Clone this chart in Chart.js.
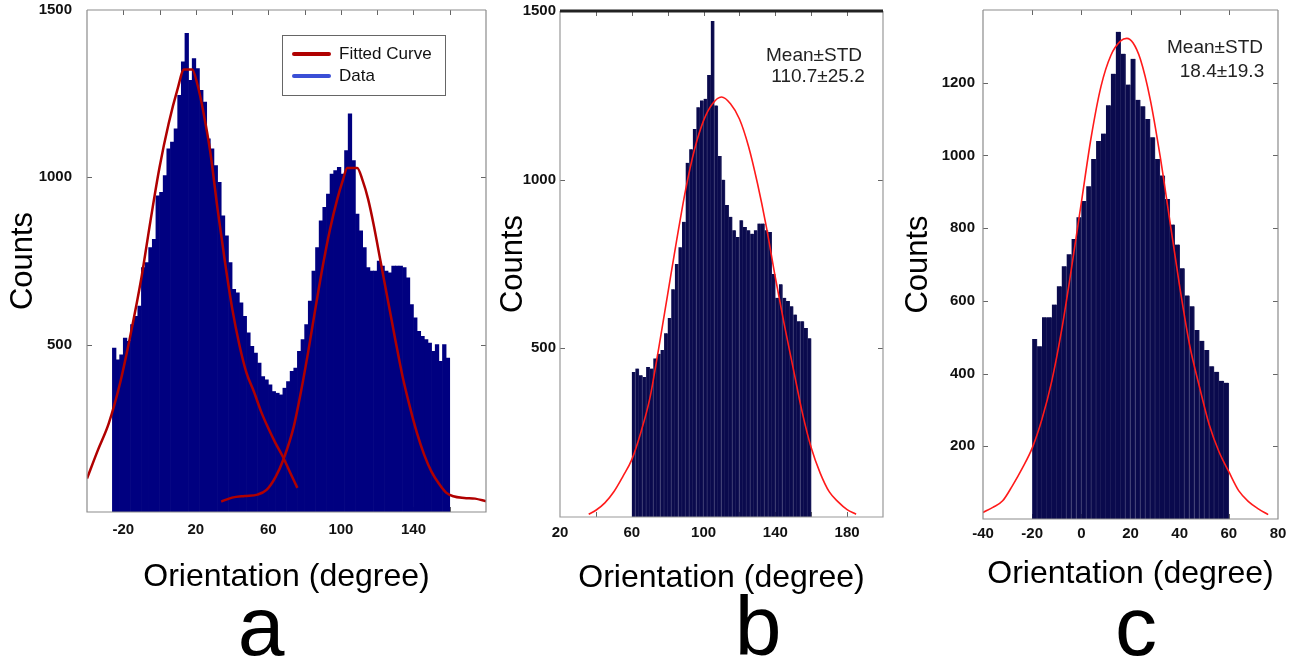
<!DOCTYPE html>
<html>
<head>
<meta charset="utf-8">
<title>Orientation histograms</title>
<script src="https://cdn.jsdelivr.net/npm/chart.js@4.4.1/dist/chart.umd.min.js"></script>
<style>
  html, body { margin: 0; padding: 0; background: #fff; }
  body { width: 1302px; height: 661px; position: relative; overflow: hidden; }
  .panel { position: absolute; top: 0; }
  #wrapA { left: 0; }
  #wrapB { left: 490px; }
  #wrapC { left: 900px; }
</style>
</head>
<body>
<div class="panel" id="wrapA"><canvas id="chartA" width="500" height="661"></canvas></div>
<div class="panel" id="wrapB"><canvas id="chartB" width="410" height="661"></canvas></div>
<div class="panel" id="wrapC"><canvas id="chartC" width="402" height="661"></canvas></div>
<script>
// ---- panel a : two populations, two fitted curves ----
var aBinCenters = [-25,-23,-21,-19,-17,-15,-13,-11,-9,-7,-5,-3,-1,1,3,5,7,9,11,13,15,17,19,21,23,25,27,29,31,33,35,37,39,41,43,45,47,49,51,53,55,57,59,61,63,65,67,69,71,73,75,77,79,81,83,85,87,89,91,93,95,97,99,101,103,105,107,109,111,113,115,117,119,121,123,125,127,129,131,133,135,137,139,141,143,145,147,149,151,153,155,157,159];
var aCounts = [490,455,470,520,510,560,585,615,730,745,
               790,815,945,955,1005,1085,1105,1145,1245,1345,
               1430,1290,1355,1325,1260,1225,1115,1085,1035,985,
               885,825,745,665,655,625,585,535,495,475,
               445,405,395,380,360,355,350,370,390,420,
               430,480,515,560,630,720,790,870,910,950,
               1010,1020,1030,1010,1080,1190,1050,890,840,790,
               730,720,720,750,735,720,715,735,735,735,
               730,700,620,580,540,525,515,505,480,500,
               450,500,460];
var aFitLeftDeg = [-40,-34,-28,-22,-16,-10,-5,0,5,10,13.5,18,21,24,28,32,36,40,44,48,52,56,60,64,68,72,76];
var aFitLeftCounts = [100,185,265,380,530,700,870,1030,1160,1265,1322,1322,1275,1200,1075,905,750,610,500,415,360,300,250,205,165,118,72];
var aFitRightDeg = [34,40,47,54,59,64,68.5,74,78,82,86,90,94,98,101,103.5,109,112,115,118,122,126,130,134,138,142,146,150,154,158,162,168,174,180];
var aFitRightCounts = [31,43,48,52,66,105,160,255,360,480,610,735,845,935,990,1028,1028,990,935,860,745,630,515,405,315,235,170,120,85,58,47,42,40,32];
var aXLabels = [-20, 20, 60, 100, 140];
var aYLabels = [500, 1000, 1500];

// ---- panel b ----
var bBinCenters = [61,63,65,67,69,71,73,75,77,79,81,83,85,87,89,91,93,95,97,99,101,103,105,107,109,111,113,115,117,119,121,123,125,127,129,131,133,135,137,139,141,143,145,147,149,151,153,155,157,159];
var bCounts = [430,440,420,415,445,440,470,484,495,545,
               590,675,750,800,875,1050,1090,1150,1215,1235,
               1240,1310,1470,1220,1070,1000,925,890,850,830,
               880,860,850,840,850,870,870,850,845,720,
               650,690,650,640,625,600,580,580,560,530];
var bFitDeg = [36,40,45,50,55,60,65,70,75,80,85,90,95,100,105,110,115,120,125,130,135,140,145,150,155,160,165,170,175,180,185];
var bFitCounts = [8,20,42,75,120,170,250,350,500,660,820,970,1090,1175,1225,1245,1225,1180,1100,990,860,710,570,440,310,205,130,75,45,22,8];
var bXLabels = [20, 60, 100, 140, 180];
var bYLabels = [500, 1000, 1500];

// ---- panel c ----
var cBinCenters = [-19,-17,-15,-13,-11,-9,-7,-5,-3,-1,1,3,5,7,9,11,13,15,17,19,21,23,25,27,29,31,33,35,37,39,41,43,45,47,49,51,53,55,57,59];
var cCounts = [495,475,555,555,590,640,695,728,770,830,
               875,915,990,1040,1060,1138,1225,1340,1280,1195,
               1266,1153,1135,1100,1050,990,945,880,810,755,
               690,615,585,520,490,465,420,405,380,375];
var cFitDeg = [-40,-36,-32,-28,-24,-20,-16,-12,-8,-4,0,4,8,12,16,18.5,21,24,28,32,36,40,44,48,52,56,60,64,68,72,76];
var cFitCounts = [18,32,50,92,140,195,275,380,520,690,870,1050,1190,1275,1315,1322,1310,1265,1155,1000,820,640,480,365,260,185,130,78,48,28,12];
var cXLabels = [-40, -20, 0, 20, 40, 60, 80];
var cYLabels = [200, 400, 600, 800, 1000, 1200];

var FONT = "'Liberation Sans', Arial, sans-serif";

function toPoints(xs, ys) {
    var pts = [];
    for (var i = 0; i < xs.length; i++) {
        pts.push({x: xs[i], y: ys[i]});
    }
    return pts;
}

// frame round the plot and small inward tick marks, like the original figure
function frameTicks(style) {
    return {
        id: 'frameTicks',
        beforeDatasetsDraw: function (chart) {
            var ctx = chart.ctx, a = chart.chartArea;
            var sx = chart.scales.x, sy = chart.scales.y;
            ctx.save();
            ctx.strokeStyle = '#666';
            ctx.lineWidth = 1;
            ctx.beginPath();
            sx.ticks.forEach(function (t) {
                var px = Math.round(sx.getPixelForValue(t.value)) + 0.5;
                if (px <= a.left + 2 || px >= a.right - 2) return;
                ctx.moveTo(px, a.top); ctx.lineTo(px, a.top + 5);
                ctx.moveTo(px, a.bottom); ctx.lineTo(px, a.bottom - 5);
            });
            sy.ticks.forEach(function (t) {
                var py = Math.round(sy.getPixelForValue(t.value)) + 0.5;
                if (py <= a.top + 2 || py >= a.bottom - 2) return;
                ctx.moveTo(a.left, py); ctx.lineTo(a.left + 5, py);
                ctx.moveTo(a.right, py); ctx.lineTo(a.right - 5, py);
            });
            ctx.stroke();
            ctx.restore();
        },
        afterDatasetsDraw: function (chart) {
            var ctx = chart.ctx, a = chart.chartArea;
            ctx.save();
            ctx.strokeStyle = style.color;
            ctx.lineWidth = 1.2;
            ctx.beginPath();
            ctx.moveTo(a.left, a.top);
            ctx.lineTo(a.left, a.bottom);
            ctx.lineTo(a.right, a.bottom);
            ctx.lineTo(a.right, a.top);
            ctx.stroke();
            ctx.strokeStyle = style.topColor;
            ctx.lineWidth = style.topWidth;
            ctx.beginPath();
            ctx.moveTo(a.left, a.top);
            ctx.lineTo(a.right, a.top);
            ctx.stroke();
            ctx.restore();
        }
    };
}

// free text (annotations, panel letters)
function panelText(items) {
    return {
        id: 'panelText',
        afterDraw: function (chart) {
            var ctx = chart.ctx;
            items.forEach(function (it) {
                ctx.save();
                ctx.font = it.font;
                ctx.fillStyle = it.color || '#000';
                ctx.textAlign = it.align || 'center';
                ctx.textBaseline = it.baseline || 'middle';
                ctx.fillText(it.text, it.x, it.y);
                ctx.restore();
            });
        }
    };
}

// boxed legend drawn inside the plot of panel a
function boxLegend(box, entries) {
    return {
        id: 'boxLegend',
        afterDraw: function (chart) {
            var ctx = chart.ctx;
            ctx.save();
            ctx.fillStyle = '#fff';
            ctx.fillRect(box.x, box.y, box.w, box.h);
            ctx.strokeStyle = '#666';
            ctx.lineWidth = 1;
            ctx.strokeRect(box.x + 0.5, box.y + 0.5, box.w, box.h);
            entries.forEach(function (e, i) {
                var yy = box.y + 19 + i * 22;
                ctx.strokeStyle = e.color;
                ctx.lineWidth = 4;
                ctx.lineCap = 'round';
                ctx.beginPath();
                ctx.moveTo(box.x + 12, yy);
                ctx.lineTo(box.x + 47, yy);
                ctx.stroke();
                ctx.fillStyle = '#111';
                ctx.font = '17px ' + FONT;
                ctx.textAlign = 'left';
                ctx.textBaseline = 'middle';
                ctx.fillText(e.text, box.x + 57, yy);
            });
            ctx.restore();
        }
    };
}

function makePanel(id, p) {
    var datasets = [];
    p.curves.forEach(function (c) {
        datasets.push({
            type: 'line',
            data: c,
            borderColor: p.curveColor,
            borderWidth: p.curveWidth,
            pointRadius: 0,
            fill: false,
            cubicInterpolationMode: 'monotone',
            order: 0
        });
    });
    datasets.push({
        type: 'bar',
        data: p.bars,
        backgroundColor: p.barColor,
        borderColor: p.barEdge,
        borderWidth: p.barEdge ? {right: 1} : 0,
        borderSkipped: false,
        barPercentage: 1,
        categoryPercentage: 1,
        order: 1
    });

    return new Chart(document.getElementById(id), {
        type: 'bar',
        data: {datasets: datasets},
        options: {
            responsive: false,
            animation: false,
            events: [],
            layout: {padding: p.padding},
            plugins: {
                legend: {display: false},
                tooltip: {enabled: false}
            },
            scales: {
                x: {
                    type: 'linear',
                    min: p.xMin, max: p.xMax,
                    offset: false,
                    grid: {display: false, drawTicks: false, offset: false},
                    border: {display: false},
                    ticks: {
                        stepSize: 20, autoSkip: false, maxRotation: 0,
                        padding: p.xTickPad, color: '#111',
                        font: {family: FONT, size: 15, weight: 'bold'},
                        callback: function (v) { return p.xLabels.indexOf(v) >= 0 ? v : ''; }
                    },
                    title: {
                        display: true, text: 'Orientation (degree)', color: '#000',
                        font: {family: FONT, size: 32},
                        padding: {top: 0, bottom: p.xTitlePad}
                    },
                    afterFit: function (s) { s.height = p.xHeight; }
                },
                y: {
                    min: 0, max: p.yMax,
                    // the tick length (not drawn) keeps the labels off the frame
                    // without pushing the plot top down
                    grid: {display: false, drawTicks: true, tickLength: p.yTickPad},
                    border: {display: false},
                    ticks: {
                        stepSize: p.yStep, padding: 0, color: '#111',
                        font: {family: FONT, size: 15, weight: 'bold'},
                        callback: function (v) { return p.yLabels.indexOf(v) >= 0 ? v : ''; }
                    },
                    title: {
                        display: true, text: 'Counts', color: '#000',
                        font: {family: FONT, size: 31},
                        padding: {top: p.yTitlePad, bottom: 0}
                    },
                    afterFit: function (s) { s.width = p.yWidth; }
                }
            }
        },
        plugins: p.plugins
    });
}

var annFont = '19px ' + FONT;
var letterFont = '84px ' + FONT;

makePanel('chartA', {
    bars: toPoints(aBinCenters, aCounts),
    curves: [toPoints(aFitLeftDeg, aFitLeftCounts), toPoints(aFitRightDeg, aFitRightCounts)],
    barColor: '#000080', barEdge: null,
    curveColor: '#b00000', curveWidth: 2.5,
    xMin: -40, xMax: 180, xLabels: aXLabels,
    yMax: 1500, yStep: 500, yLabels: aYLabels,
    padding: {left: 4, right: 14, top: 10, bottom: 49},
    xHeight: 100, xTickPad: 9, xTitlePad: 16,
    yWidth: 83, yTickPad: 15, yTitlePad: 1,
    plugins: [
        frameTicks({color: '#8c8c8c', topColor: '#8c8c8c', topWidth: 1.2}),
        boxLegend({x: 282, y: 35, w: 163, h: 60}, [
            {text: 'Fitted Curve', color: '#b00000'},
            {text: 'Data', color: '#3a4fd6'}
        ]),
        panelText([{text: 'a', x: 261, y: 655, font: letterFont, baseline: 'alphabetic'}])
    ]
});

makePanel('chartB', {
    bars: toPoints(bBinCenters, bCounts),
    curves: [toPoints(bFitDeg, bFitCounts)],
    barColor: '#0a0a4d', barEdge: '#23235f',
    curveColor: '#ff1a1a', curveWidth: 1.6,
    xMin: 20, xMax: 200, xLabels: bXLabels,
    yMax: 1500, yStep: 500, yLabels: bYLabels,
    padding: {left: 4, right: 17, top: 11, bottom: 49},
    xHeight: 95, xTickPad: 7, xTitlePad: 15,
    yWidth: 66, yTickPad: 4, yTitlePad: 1,
    plugins: [
        frameTicks({color: '#999', topColor: '#222', topWidth: 3}),
        panelText([
            {text: 'Mean\u00b1STD', x: 324, y: 56, font: annFont, color: '#222'},
            {text: '110.7\u00b125.2', x: 328, y: 77, font: annFont, color: '#222'},
            {text: 'b', x: 268, y: 655, font: letterFont, baseline: 'alphabetic'}
        ])
    ]
});

makePanel('chartC', {
    bars: toPoints(cBinCenters, cCounts),
    curves: [toPoints(cFitDeg, cFitCounts)],
    barColor: '#0a0a4d', barEdge: '#23235f',
    curveColor: '#ff1a1a', curveWidth: 1.6,
    xMin: -40, xMax: 80, xLabels: cXLabels,
    yMax: 1400, yStep: 200, yLabels: cYLabels,
    padding: {left: 0, right: 24, top: 10, bottom: 49},
    xHeight: 93, xTickPad: 6, xTitlePad: 19,
    yWidth: 83, yTickPad: 8, yTitlePad: 0,
    plugins: [
        frameTicks({color: '#8c8c8c', topColor: '#8c8c8c', topWidth: 1.2}),
        panelText([
            {text: 'Mean\u00b1STD', x: 315, y: 48, font: annFont, color: '#222'},
            {text: '18.4\u00b119.3', x: 322, y: 72, font: annFont, color: '#222'},
            {text: 'c', x: 236, y: 655, font: letterFont, baseline: 'alphabetic'}
        ])
    ]
});
</script>
</body>
</html>
